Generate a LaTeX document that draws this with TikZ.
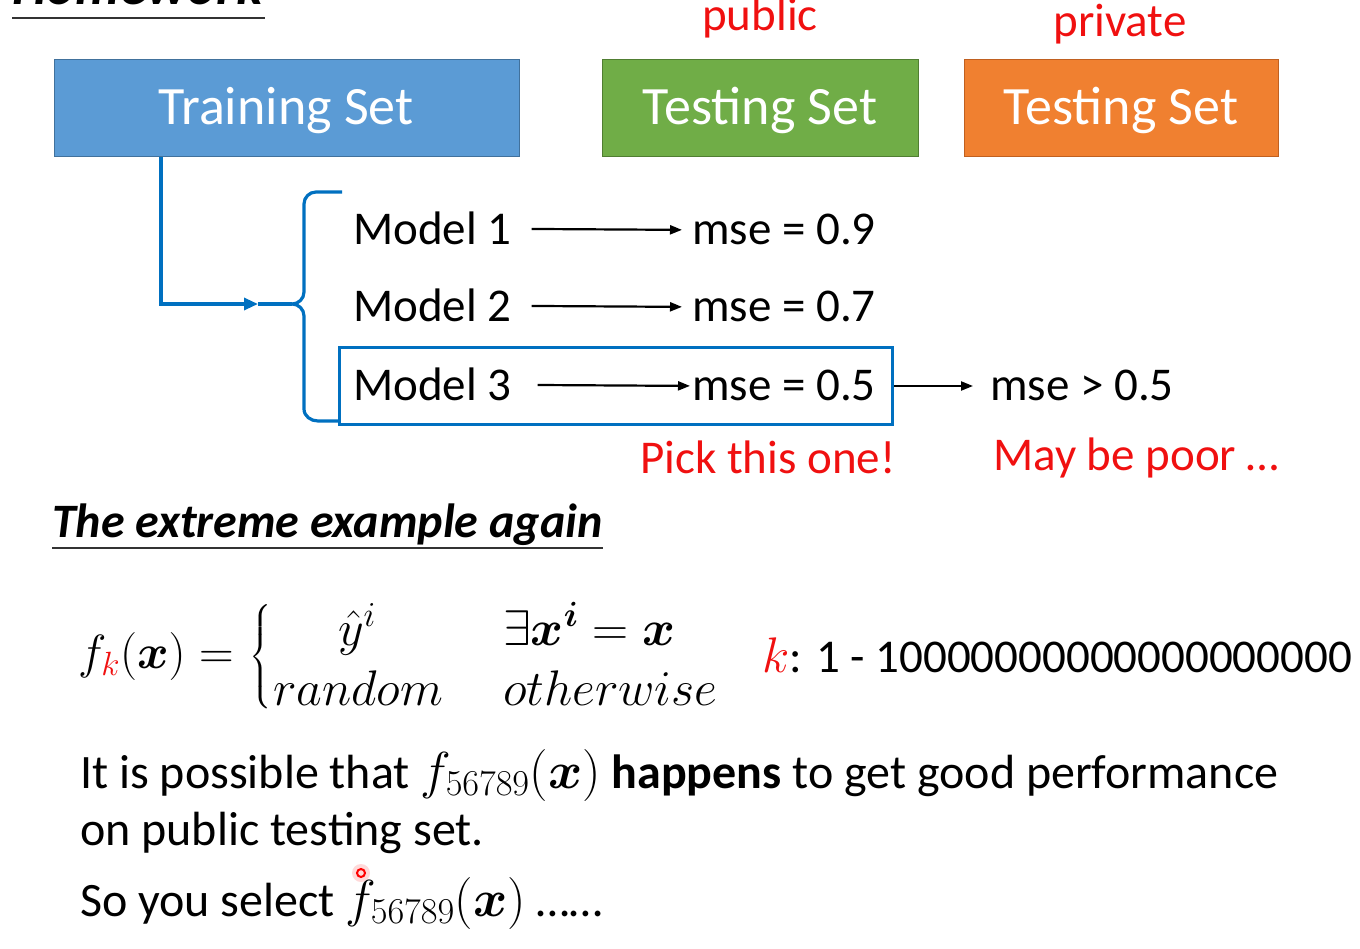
\documentclass[tikz,border=0pt]{standalone}
\usepackage{fix-cm}
\usepackage{amsmath,bm}
\usepackage{fontspec}
\setmainfont{Carlito}
\usetikzlibrary{arrows.meta}
\definecolor{trainblue}{HTML}{5B9BD5}
\definecolor{trainedge}{HTML}{41719C}
\definecolor{pubgreen}{HTML}{70AD47}
\definecolor{pubedge}{HTML}{507E32}
\definecolor{privorange}{HTML}{F08030}
\definecolor{privedge}{HTML}{C06020}
\definecolor{linkblue}{HTML}{0070C0}
\definecolor{hired}{HTML}{F01010}
\definecolor{ulgray}{HTML}{333333}
\tikzset{
  txt/.style={inner sep=0pt, font=\fontsize{47}{56}\selectfont},
  bigtxt/.style={inner sep=0pt, font=\fontsize{48}{56}\selectfont},
  mathtxt/.style={inner sep=0pt, font=\fontsize{50}{56}\selectfont},
  boxtxt/.style={inner sep=0pt, text=white, font=\fontsize{54}{60}\selectfont},
  setbox/.style={anchor=north west, line width=1.2pt, minimum height=97pt, inner sep=0pt},
  arr/.style={line width=2.2pt, -{Triangle[length=12pt,width=9pt]}},
  bline/.style={draw=linkblue, line width=3.2pt},
  uline/.style={draw=ulgray, line width=2.5pt},
}
\begin{document}
\begin{tikzpicture}[x=1pt,y=-1pt]
\useasboundingbox (0,0) rectangle (1360,949);

% heading (cut off)
\node[txt, anchor=base west, font=\fontsize{55}{60}\selectfont\bfseries\itshape] (hw) at (12,5) {Homework};
\draw[uline] (12,18) -- (265,18);

% set boxes
\node[setbox, fill=trainblue, draw=trainedge, minimum width=465pt] (train) at (54,59) {};
\node[boxtxt, anchor=base] (traintxt) at (286,125) {Training Set};
\node[setbox, fill=pubgreen, draw=pubedge, minimum width=316pt] (pub) at (602,59) {};
\node[boxtxt, anchor=base] (pubtxt) at (760,125) {Testing Set};
\node[setbox, fill=privorange, draw=privedge, minimum width=314pt] (priv) at (964,59) {};
\node[boxtxt, anchor=base] (privtxt) at (1121,125) {Testing Set};
\node[txt, text=hired, anchor=base] (publbl) at (760,31) {public};
\node[txt, text=hired, anchor=base] (privlbl) at (1120,37) {private};

% models
\node[txt, anchor=base west] (m1) at (353,245) {Model 1};
\node[txt, anchor=base west] (e1) at (692,245) {mse = 0.9};
\node[txt, anchor=base west] (m2) at (353,322) {Model 2};
\node[txt, anchor=base west] (e2) at (692,322) {mse = 0.7};
\node[draw=linkblue, line width=3pt, anchor=north west, minimum width=553pt, minimum height=77pt, inner sep=0pt] (box3) at (338,346) {};
\node[txt, anchor=base west] (m3) at (353,401) {Model 3};
\node[txt, anchor=base west] (e3) at (692,401) {mse = 0.5};
\node[txt, anchor=base west] (gt) at (990,401) {mse > 0.5};
\draw[arr, shorten <=20pt, shorten >=10pt] (m1.east) -- (e1.west);
\draw[arr, shorten <=20pt, shorten >=10pt] (m2.east) -- (e2.west);
\draw[arr, shorten <=26pt, shorten >=2pt] (m3.east) -- (e3.west);
\draw[arr, shorten >=17pt] (box3.east) -- (gt.west |- box3.east);
\node[txt, text=hired, anchor=base west] (pick) at (640,473) {Pick this one!};
\node[txt, text=hired, anchor=base west] (poor) at (993,470) {May be poor …};

% brace and link from training set
\coordinate (bracetip) at (292,304);
\coordinate (bracetop) at (342,192);
\coordinate (bracebot) at (340,421);
\coordinate (linkmid) at (258,304);
\draw[bline, line join=round] (bracetop) -- (316,192) to[out=180,in=90] (304,204) -- (304,292) to[out=-90,in=0] (bracetip)
  to[out=0,in=90] (304,316) -- (304,409) to[out=-90,in=180] (318,421) -- (bracebot);
\draw[bline, -{Triangle[length=14pt,width=12pt]}] ([xshift=107pt]train.south west) |- (linkmid);
\draw[bline] (linkmid) -- (bracetip);

% second part
\node[txt, anchor=base west, font=\fontsize{48}{56}\selectfont\bfseries\itshape] (title) at (52,537) {The extreme example again};
\draw[uline] ([yshift=-11pt]title.base west) -- ([yshift=-11pt]title.base east);

\node[inner sep=0pt, font=\fontsize{48}{56}\selectfont, anchor=base west] (lhs) at (78,668) {$f_{\textcolor{hired}{k}}(\bm{x}) =$};
\node[mathtxt, anchor=west] (brace) at (249,657) {$\left\{\rule{0pt}{64pt}\right.$};
\node[mathtxt, anchor=base] (c1) at (357,645) {$\hat{y}^i$};
\node[mathtxt, anchor=base west] (r1) at (503,645) {$\exists\bm{x}^{\bm{i}} = \bm{x}$};
\node[mathtxt, anchor=base west] (c2) at (273,705) {$random$};
\node[mathtxt, anchor=base west] (r2) at (503,705) {$otherwise$};
\node[txt, anchor=base west] (krange) at (762,672) {{\fontsize{50}{56}\selectfont$\textcolor{hired}{k}$}: 1 - 10000000000000000000};

\node[bigtxt, anchor=base west] (l1) at (80,788) {It is possible that {\fontsize{52}{56}\selectfont$f_{56789}(\bm{x})$} \textbf{happens} to get good performance};
\node[bigtxt, anchor=base west] (l2) at (80,845) {on public testing set.};
\node[bigtxt, anchor=base west] (l3) at (80,916) {So you select {\fontsize{52}{56}\selectfont$f_{56789}(\bm{x})$} ……};

% laser pointer dot
\fill[red!25, opacity=0.6] (361,873) circle (9pt);
\draw[red, line width=2pt] (361,873) circle (4pt);
\end{tikzpicture}
\end{document}
